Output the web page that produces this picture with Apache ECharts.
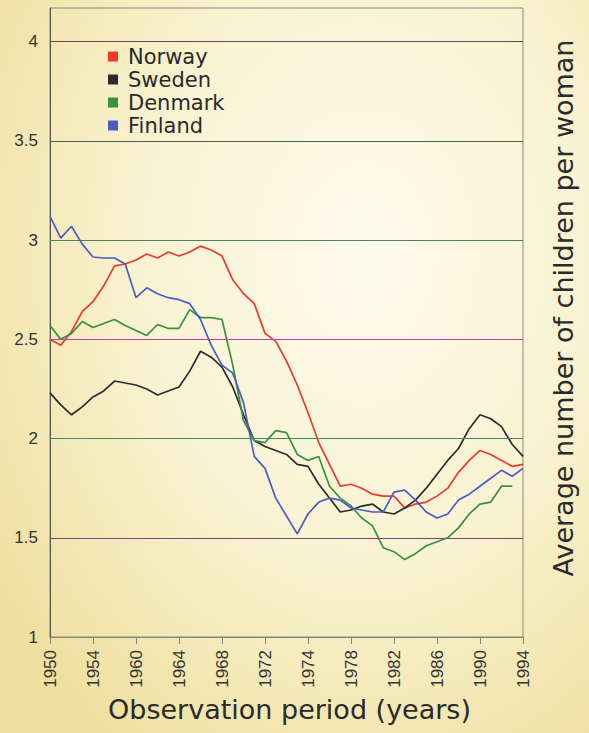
<!DOCTYPE html>
<html>
  <head>
    <meta charset="utf-8" />
    <title>Fertility in the Nordic countries</title>
    <style>
      html, body { margin: 0; padding: 0; }
      #main {
        width: 589px;
        height: 733px;
        background: radial-gradient(ellipse 75% 80% at 62% 35%, #fdfbee 0%, #f9f3d2 50%, #efe0a0 100%);
      }
    </style>
  </head>
  <body>
    <div id="main"></div>
    <script type="text/javascript" src="https://cdn.jsdelivr.net/npm/echarts@6/dist/echarts.min.js"></script>
    <script type="text/javascript">
      // years on the x axis, one value per year
      var years = [
        "1950", "1951", "1952", "1953", "1954", "1955", "1956", "1957", "1958", "1959",
        "1960", "1961", "1962", "1963", "1964", "1965", "1966", "1967", "1968", "1969",
        "1970", "1971", "1972", "1973", "1974", "1975", "1976", "1977", "1978", "1979",
        "1980", "1981", "1982", "1983", "1984", "1985", "1986", "1987", "1988", "1989",
        "1990", "1991", "1992", "1993", "1994"
      ];
      // the printed tick labels (every 4th year), as they appear on the original
      var tickLabels = ["1950", "1954", "1960", "1964", "1968", "1972", "1974", "1978", "1982", "1986", "1990", "1994"];
      // horizontal reference lines and their colours
      var gridValues = [1.5, 2, 2.5, 3, 3.5, 4];
      var gridColors = ["#8a3c7e", "#3f8a66", "#c23cb0", "#53805c", "#4d5f50", "#7a3c5c"];

      var norway = [
        2.50, 2.47, 2.54, 2.64, 2.69, 2.77, 2.87, 2.88, 2.90, 2.93,
        2.91, 2.94, 2.92, 2.94, 2.97, 2.95, 2.92, 2.80, 2.73, 2.68,
        2.53, 2.49, 2.39, 2.27, 2.13, 1.98, 1.87, 1.76, 1.77, 1.75,
        1.72, 1.71, 1.71, 1.65, 1.67, 1.68, 1.71, 1.75, 1.83, 1.89,
        1.94, 1.92, 1.89, 1.86, 1.87
      ];
      var sweden = [
        2.23, 2.17, 2.12, 2.16, 2.21, 2.24, 2.29, 2.28, 2.27, 2.25,
        2.22, 2.24, 2.26, 2.34, 2.44, 2.41, 2.36, 2.26, 2.12, 1.99,
        1.96, 1.94, 1.92, 1.87, 1.86, 1.77, 1.70, 1.63, 1.64, 1.66,
        1.67, 1.63, 1.62, 1.65, 1.69, 1.75, 1.82, 1.89, 1.95, 2.05,
        2.12, 2.10, 2.06, 1.97, 1.91
      ];
      var denmark = [
        2.57, 2.50, 2.53, 2.59, 2.56, 2.58, 2.60, 2.57, 2.545, 2.52,
        2.575, 2.555, 2.555, 2.65, 2.61, 2.61, 2.60, 2.37, 2.09, 1.99,
        1.98, 2.04, 2.03, 1.92, 1.89, 1.91, 1.76, 1.70, 1.66, 1.60,
        1.56, 1.45, 1.43, 1.39, 1.42, 1.46, 1.48, 1.50, 1.55, 1.62,
        1.67, 1.68, 1.76, 1.76, null
      ];
      var finland = [
        3.12, 3.01, 3.07, 2.98, 2.915, 2.91, 2.91, 2.88, 2.71, 2.76,
        2.73, 2.71, 2.70, 2.68, 2.60, 2.47, 2.37, 2.33, 2.18, 1.91,
        1.85, 1.70, 1.61, 1.52, 1.62, 1.68, 1.70, 1.69, 1.65, 1.64,
        1.63, 1.63, 1.73, 1.74, 1.69, 1.63, 1.60, 1.62, 1.69, 1.72,
        1.76, 1.80, 1.84, 1.81, 1.85
      ];

      var names = ["Norway", "Sweden", "Denmark", "Finland"];
      var colors = ["#ec3a2c", "#2b2b2b", "#39913f", "#4b5cc4"];
      var values = [norway, sweden, denmark, finland];

      var chart = echarts.init(document.getElementById("main"), null, { renderer: "svg" });

      var series = [];
      // one empty series per coloured horizontal line
      for (var k = 0; k < gridValues.length; k++) {
        series.push({
          name: "ref" + k,
          type: "line",
          data: [],
          z: 1,
          markLine: {
            silent: true,
            symbol: "none",
            label: { show: false },
            lineStyle: { color: gridColors[k], width: 1.2, type: "solid", opacity: 1 },
            emphasis: { disabled: true },
            data: [{ yAxis: gridValues[k] }]
          }
        });
      }
      for (var i = 0; i < names.length; i++) {
        series.push({
          name: names[i],
          type: "line",
          data: values[i],
          z: 3,
          showSymbol: false,
          symbol: "none",
          connectNulls: false,
          lineStyle: { width: 1.7, color: colors[i] },
          itemStyle: { color: colors[i] }
        });
      }

      var option = {
        animation: false,
        backgroundColor: "transparent",
        textStyle: { fontFamily: "DejaVu Sans" },
        grid: {
          left: 50,
          right: 66,
          top: 8,
          bottom: 96,
          show: true,
          borderColor: "#8a8a80",
          borderWidth: 1,
          backgroundColor: "transparent"
        },
        legend: {
          data: names,
          orient: "vertical",
          left: 103,
          top: 41,
          icon: "rect",
          itemWidth: 10,
          itemHeight: 10,
          itemGap: 2,
          textStyle: {
            fontFamily: "DejaVu Sans",
            fontSize: 21,
            lineHeight: 21,
            color: "#2a2a2a",
            padding: [0, 0, 0, 5]
          }
        },
        xAxis: {
          type: "category",
          data: years,
          boundaryGap: false,
          axisLine: { lineStyle: { color: "#7d8a76", width: 1 } },
          axisTick: { show: true, interval: 3, length: 7, inside: false, lineStyle: { color: "#7d8a76" } },
          axisLabel: {
            interval: 3,
            rotate: 90,
            margin: 13,
            fontFamily: "Liberation Sans Narrow, Liberation Sans, sans-serif",
            fontSize: 17,
            color: "#333",
            formatter: function (value, index) {
              return tickLabels[index / 4];
            }
          },
          splitLine: { show: false },
          name: "Observation period (years)",
          nameLocation: "middle",
          nameGap: 59,
          nameTextStyle: { fontFamily: "DejaVu Sans", fontSize: 27, color: "#2a2a2a", verticalAlign: "top", padding: [0, 0, 0, 6] }
        },
        yAxis: {
          type: "value",
          min: 1,
          max: 4.17,
          interval: 0.5,
          axisLine: { show: true, lineStyle: { color: "#555", width: 1 } },
          axisTick: { show: false },
          axisLabel: {
            showMaxLabel: false,
            margin: 12,
            fontFamily: "Liberation Sans Narrow, Liberation Sans, sans-serif",
            fontSize: 17,
            color: "#333"
          },
          splitLine: { show: false }
        },
        graphic: [
          {
            type: "text",
            x: 563,
            y: 308,
            rotation: Math.PI / 2,
            style: {
              text: "Average number of children per woman",
              fontFamily: "DejaVu Sans",
              fontSize: 27,
              fill: "#2a2a2a",
              align: "center",
              verticalAlign: "middle"
            }
          }
        ],
        series: series
      };

      chart.setOption(option);
    </script>
  </body>
</html>
